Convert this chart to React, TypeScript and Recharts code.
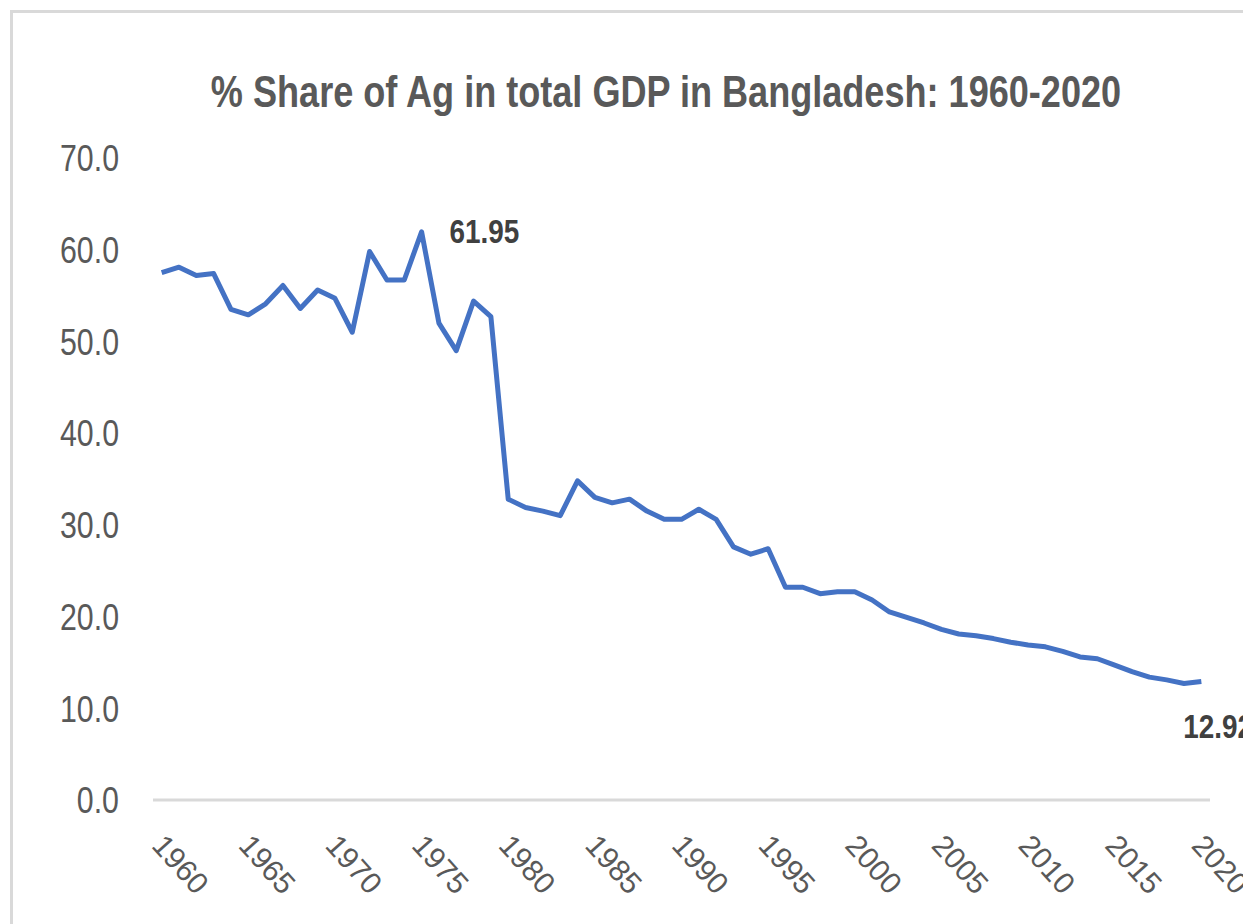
import React from "react";
import { LineChart, Line, XAxis, YAxis, LabelList } from "recharts";

const years = [
  1960, 1961, 1962, 1963, 1964, 1965, 1966, 1967, 1968, 1969,
  1970, 1971, 1972, 1973, 1974, 1975, 1976, 1977, 1978, 1979,
  1980, 1981, 1982, 1983, 1984, 1985, 1986, 1987, 1988, 1989,
  1990, 1991, 1992, 1993, 1994, 1995, 1996, 1997, 1998, 1999,
  2000, 2001, 2002, 2003, 2004, 2005, 2006, 2007, 2008, 2009,
  2010, 2011, 2012, 2013, 2014, 2015, 2016, 2017, 2018, 2019,
  2020,
];

const agShare = [
  57.5, 58.1, 57.2, 57.4, 53.5, 52.9, 54.1, 56.1, 53.6, 55.6,
  54.7, 51.0, 59.8, 56.7, 56.7, 61.95, 52.0, 49.0, 54.4, 52.7,
  32.8, 31.9, 31.5, 31.0, 34.8, 33.0, 32.4, 32.8, 31.5, 30.6,
  30.6, 31.7, 30.6, 27.6, 26.8, 27.4, 23.2, 23.2, 22.5, 22.7,
  22.7, 21.8, 20.5, 19.9, 19.3, 18.6, 18.1, 17.9, 17.6, 17.2,
  16.9, 16.7, 16.2, 15.6, 15.4, 14.7, 14.0, 13.4, 13.1, 12.7,
  12.92,
];

const xTicks = [1960, 1965, 1970, 1975, 1980, 1985, 1990, 1995, 2000, 2005, 2010, 2015, 2020];
const yTicks = [0, 10, 20, 30, 40, 50, 60, 70];
const labelledYears = [1975, 2020];

const data = years.map((year, i) => ({ year, share: agShare[i] }));

// narrow look: Liberation Sans squeezed horizontally
const FONT = "'Liberation Sans', Arial, sans-serif";
const SQUEEZE = 0.82;
const GREY = "#595959";

const YTick = (props: any) => {
  const { y, payload } = props;
  return (
    <text
      transform={`translate(119,${y}) scale(${SQUEEZE},1)`}
      dy="0.36em"
      textAnchor="end"
      fontFamily={FONT}
      fontSize={37}
      fill={GREY}
    >
      {payload.value.toFixed(1)}
    </text>
  );
};

const XTick = (props: any) => {
  const { x, payload } = props;
  return (
    <g transform={`translate(${x + 5},832) rotate(48)`}>
      <text x={0} y={0} dy="0.72em" textAnchor="start" fontFamily={FONT} fontSize={30} fill={GREY}>
        {payload.value}
      </text>
    </g>
  );
};

const PointLabel = (props: any) => {
  const { x, y, index } = props;
  const row = data[index];
  if (!row || !labelledYears.includes(row.year)) return null;
  const first = row.year === labelledYears[0];
  const lx = first ? x + 28 : x - 18;
  const ly = first ? y + 11 : y + 56;
  return (
    <text
      transform={`translate(${lx},${ly}) scale(${SQUEEZE},1)`}
      fontFamily={FONT}
      fontWeight="bold"
      fontSize={34}
      fill="#404040"
    >
      {row.share.toFixed(2)}
    </text>
  );
};

export default function App() {
  return (
    <div
      style={{
        position: "fixed",
        left: 0,
        top: 0,
        width: 1243,
        height: 924,
        overflow: "hidden",
        background: "#fff",
      }}
    >
      <div
        style={{
          position: "absolute",
          left: 10,
          top: 10,
          width: 1300,
          height: 1000,
          border: "3px solid #d9d9d9",
        }}
      />
      <div
        style={{
          position: "absolute",
          left: 0,
          top: 70,
          width: 1332,
          textAlign: "center",
          fontFamily: FONT,
          fontWeight: "bold",
          fontSize: 44,
          lineHeight: "44px",
          color: GREY,
          whiteSpace: "nowrap",
          transform: `scaleX(${SQUEEZE})`,
          transformOrigin: "666px 0",
        }}
      >
        % Share of Ag in total GDP in Bangladesh: 1960-2020
      </div>
      <div style={{ position: "absolute", left: 0, top: 0 }}>
        <LineChart
          width={1243}
          height={924}
          data={data}
          margin={{ top: 158, right: 33, bottom: 24, left: 93 }}
        >
          <XAxis
            dataKey="year"
            type="number"
            domain={[1959.5, 2020.5]}
            ticks={xTicks}
            interval={0}
            height={100}
            axisLine={{ stroke: "#d9d9d9", strokeWidth: 3 }}
            tickLine={false}
            tick={<XTick />}
          />
          <YAxis
            domain={[0, 70]}
            ticks={yTicks}
            interval={0}
            width={60}
            axisLine={false}
            tickLine={false}
            tick={<YTick />}
          />
          <Line
            type="linear"
            dataKey="share"
            stroke="#4472C4"
            strokeWidth={5}
            strokeLinejoin="round"
            dot={false}
            isAnimationActive={false}
          >
            <LabelList dataKey="share" content={<PointLabel />} />
          </Line>
        </LineChart>
      </div>
    </div>
  );
}
